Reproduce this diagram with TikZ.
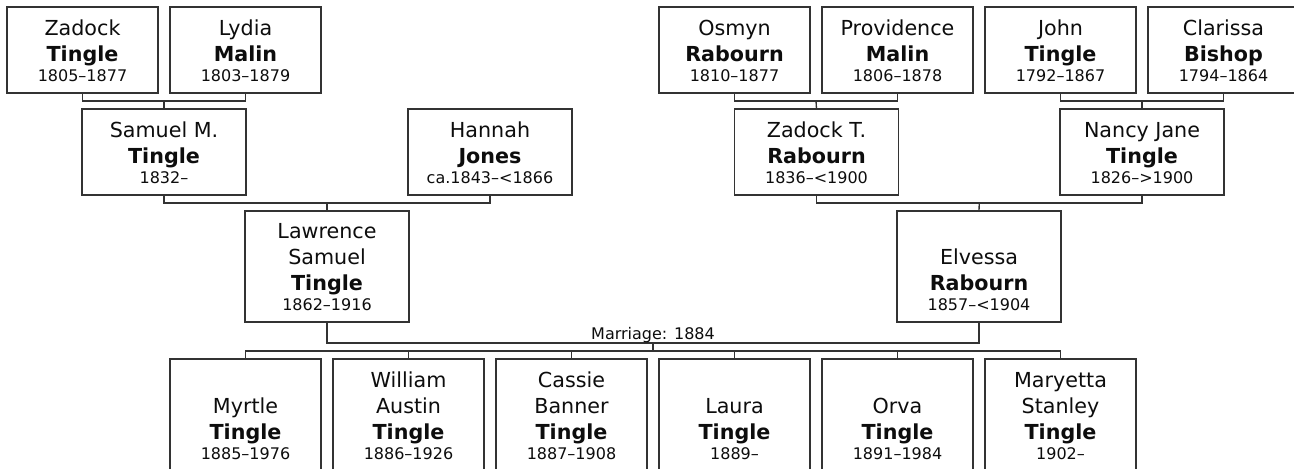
\documentclass[tikz,border=0pt]{standalone}
\usepackage{fontspec}
\setmainfont{DejaVu Sans}
\usetikzlibrary{calc}
\newcommand\datefont{\fontsize{12}{15}\selectfont}
\newcommand\famnode[6]{%
  \node[famrect, minimum width=#4, minimum height=#5] (#1) at (#2,#3) {};
  \node[famtext, anchor=south] (#1-t) at ([yshift=8.25pt]#1.south) {#6};}
\newcommand\nm[3]{#1\\\textbf{#2}\\[-4.5pt]{\datefont #3}}
\begin{document}
\begin{tikzpicture}[x=0.75pt,y=-0.75pt,
  famrect/.style={draw=black!80, line width=1pt, fill=white, inner sep=0pt, outer sep=0pt},
  famtext/.style={inner sep=0pt, align=center, text=black!95, font=\fontsize{15.5}{19.5}\selectfont},
  conn/.style={draw=black!80, line width=1pt},
  marlbl/.style={inner sep=0pt, font=\fontsize{12}{15}\selectfont, text=black!95}]
\useasboundingbox (0,0) rectangle (1294,468);
% row 1
\famnode{zadock}{82.5}{50}{113.25pt}{64.5pt}{\nm{Zadock}{Tingle}{1805–1877}}
\famnode{lydia}{245.5}{50}{113.25pt}{64.5pt}{\nm{Lydia}{Malin}{1803–1879}}
\famnode{osmyn}{734.5}{50}{113.25pt}{64.5pt}{\nm{Osmyn}{Rabourn}{1810–1877}}
\famnode{providence}{897.5}{50}{113.25pt}{64.5pt}{\nm{Providence}{Malin}{1806–1878}}
\famnode{john}{1060.5}{50}{113.25pt}{64.5pt}{\nm{John}{Tingle}{1792–1867}}
\famnode{clarissa}{1223.5}{50}{113.25pt}{64.5pt}{\nm{Clarissa}{Bishop}{1794–1864}}
% row 2
\famnode{samuel}{164}{152}{123pt}{64.5pt}{\nm{Samuel M.}{Tingle}{1832–}}
\famnode{hannah}{490}{152}{123pt}{64.5pt}{\nm{Hannah}{Jones}{ca.1843–<1866}}
\famnode{zadockt}{816.5}{152}{123pt}{64.5pt}{\nm{Zadock T.}{Rabourn}{1836–<1900}}
\famnode{nancy}{1142}{152}{123pt}{64.5pt}{\nm{Nancy Jane}{Tingle}{1826–>1900}}
% row 3
\famnode{lawrence}{327}{266.5}{123pt}{83.25pt}{\nm{Lawrence\\Samuel}{Tingle}{1862–1916}}
\famnode{elvessa}{979}{266.5}{123pt}{83.25pt}{\nm{Elvessa}{Rabourn}{1857–<1904}}
% children
\famnode{myrtle}{245.5}{415}{113.25pt}{84pt}{\nm{Myrtle}{Tingle}{1885–1976}}
\famnode{william}{408.5}{415}{113.25pt}{84pt}{\nm{William\\Austin}{Tingle}{1886–1926}}
\famnode{cassie}{571.5}{415}{113.25pt}{84pt}{\nm{Cassie\\Banner}{Tingle}{1887–1908}}
\famnode{laura}{734.5}{415}{113.25pt}{84pt}{\nm{Laura}{Tingle}{1889–}}
\famnode{orva}{897.5}{415}{113.25pt}{84pt}{\nm{Orva}{Tingle}{1891–1984}}
\famnode{maryetta}{1060.5}{415}{113.25pt}{84pt}{\nm{Maryetta\\Stanley}{Tingle}{1902–}}
% parent brackets
\coordinate (b1) at ($(zadock.south)!0.5!(lydia.south)+(0,8)$);
\draw[conn] (zadock.south) |- (b1) -| (lydia.south);
\draw[conn] (b1) -- (samuel.north);
\coordinate (b2) at ($(osmyn.south)!0.5!(providence.south)+(0,8)$);
\draw[conn] (osmyn.south) |- (b2) -| (providence.south);
\draw[conn] (b2) -- (zadockt.north);
\coordinate (b3) at ($(john.south)!0.5!(clarissa.south)+(0,8)$);
\draw[conn] (john.south) |- (b3) -| (clarissa.south);
\draw[conn] (b3) -- (nancy.north);
\coordinate (b4) at ($(samuel.south)!0.5!(hannah.south)+(0,8)$);
\draw[conn] (samuel.south) |- (b4) -| (hannah.south);
\draw[conn] (b4) -- (lawrence.north);
\coordinate (b5) at ($(zadockt.south)!0.5!(nancy.south)+(0,8)$);
\draw[conn] (zadockt.south) |- (b5) -| (nancy.south);
\draw[conn] (b5) -- (elvessa.north);
% marriage
\coordinate (m) at ($(lawrence.south)!0.5!(elvessa.south)+(0,21)$);
\draw[conn] (lawrence.south) |- (m) -| (elvessa.south);
\node[marlbl, anchor=base] (mlabel) at ($(m)+(0,-4)$) {Marriage: 1884};
\coordinate (cbar) at ($(m)+(0,8)$);
\draw[conn] (m) -- (cbar);
\draw[conn] (myrtle.north) |- (cbar) -| (maryetta.north);
\foreach \c in {william,cassie,laura,orva}{
  \draw[conn] (\c.north) -- (\c.north |- cbar);
}
\end{tikzpicture}
\end{document}
